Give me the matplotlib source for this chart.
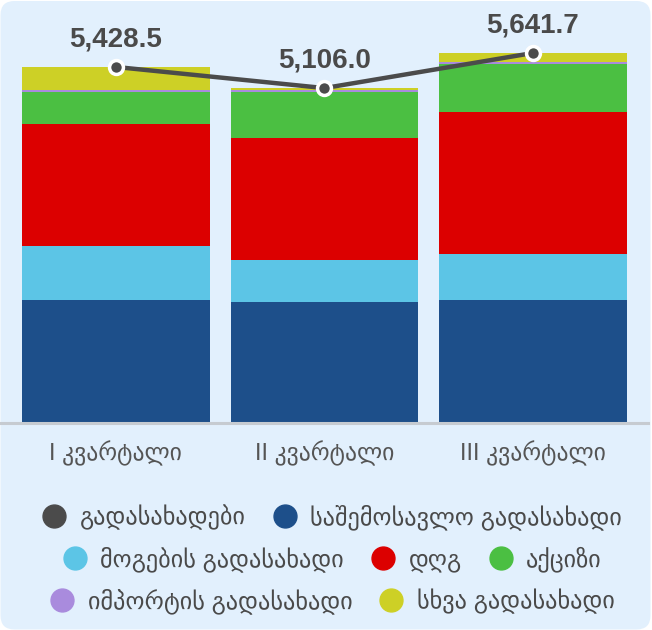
import matplotlib
matplotlib.use("Agg")
import matplotlib.pyplot as plt
from matplotlib.lines import Line2D
from matplotlib.patches import FancyBboxPatch
from matplotlib.transforms import IdentityTransform

plt.rcParams['font.family'] = ['Liberation Sans', 'DejaVu Sans']

# data
quarters = ['I კვარტალი', 'II კვარტალი', 'III კვარტალი']
income_tax = [1870, 1840, 1870]
profit_tax = [825, 641, 703]
vat = [1863, 1863, 2168]
excise = [489, 703, 733]
import_tax = [30, 30, 31]
other_tax = [351.5, 29, 136.7]
total_tax = [5428.5, 5106.0, 5641.7]

series = [
    ('საშემოსავლო გადასახადი', income_tax, '#1d4f8a'),
    ('მოგების გადასახადი', profit_tax, '#5cc5e6'),
    ('დღგ', vat, '#dc0000'),
    ('აქციზი', excise, '#4bbf42'),
    ('იმპორტის გადასახადი', import_tax, '#a98bdd'),
    ('სხვა გადასახადი', other_tax, '#cdd026'),
]
line_name = 'გადასახადები'
line_color = '#4b4b4b'
bg = '#e2f0fd'
text_color = '#4a4a4a'

W, H = 652, 630
fig = plt.figure(figsize=(W / 100, H / 100), dpi=100)
fig.patch.set_facecolor('white')
fig.patches.append(FancyBboxPatch((0.5, 0.5), W - 2, H - 1.5,
                                  boxstyle='round,pad=0,rounding_size=14',
                                  transform=IdentityTransform(),
                                  facecolor=bg, edgecolor='none', zorder=-10))

base_px = 422.5
ax = fig.add_axes([0, (H - base_px) / H, 648 / W, base_px / H])
ax.set_facecolor('none')

x = list(range(len(quarters)))
bottom = [0] * len(x)
for name, vals, col in series:
    ax.bar(x, vals, width=0.9, bottom=bottom, color=col, zorder=1)
    bottom = [b + v for b, v in zip(bottom, vals)]

ax.plot(x, total_tax, color=line_color, lw=3.2, marker='o', ms=10,
        mfc=line_color, mec='white', mew=2.5, zorder=5, clip_on=False)
for xi, v in zip(x, total_tax):
    ax.annotate(f'{v:,.1f}', (xi, v), xytext=(0, 14.5), textcoords='offset points',
                ha='center', va='baseline', fontsize=20, fontweight='bold',
                color=text_color, zorder=6)

ax.set_xlim(-0.556, 2.552)
ax.set_ylim(0, 6451)
ax.set_yticks([])
ax.set_xticks(x)
ax.set_xticklabels(quarters, fontsize=17, color='#555555')
ax.tick_params(axis='x', length=0, pad=13)
for s in ['top', 'left', 'right']:
    ax.spines[s].set_visible(False)
ax.spines['bottom'].set_color('#c6cbd1')
ax.spines['bottom'].set_linewidth(2.2)
ax.spines['bottom'].set_zorder(3)


def handle(col):
    return Line2D([], [], ls='', marker='o', ms=16.5, color=col, mec=col)


rows = [
    [(line_name, line_color), (series[0][0], series[0][2])],
    [(series[1][0], series[1][2]), (series[2][0], series[2][2]), (series[3][0], series[3][2])],
    [(series[4][0], series[4][2]), (series[5][0], series[5][2])],
]
row_y = [517, 559, 601]
for items, yp in zip(rows, row_y):
    fig.legend([handle(c) for _, c in items], [n for n, _ in items],
               loc='center', bbox_to_anchor=(331 / W, 1 - yp / H), ncol=len(items),
               frameon=False, fontsize=17.5, labelcolor=text_color,
               handlelength=1.2, handletextpad=0.45, columnspacing=1.0,
               borderaxespad=0, borderpad=0)

fig.savefig('out.png', dpi=100, facecolor='white')
